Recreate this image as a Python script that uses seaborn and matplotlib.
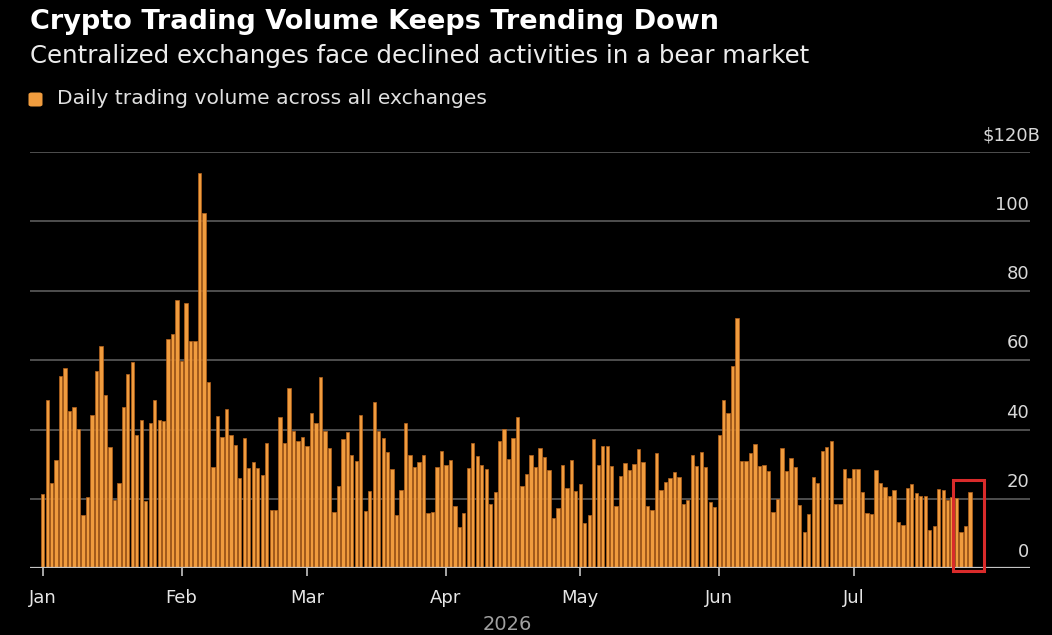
import numpy as np
import pandas as pd
import matplotlib
matplotlib.use('Agg')
import matplotlib.pyplot as plt
import matplotlib.transforms as mtransforms
from matplotlib.patches import Rectangle, FancyBboxPatch
import seaborn as sns

# daily volume, $B, Jan 1 .. Jul 27
volume = [
    21.3, 48.5, 24.7, 31.2, 55.5, 57.8, 45.4, 46.6, 40.2, 15.4,
    20.5, 44.2, 56.8, 64.2, 50.0, 35.0, 19.7, 24.7, 46.5, 56.0,
    59.6, 38.5, 42.8, 19.5, 41.9, 48.4, 42.7, 42.5, 66.1, 67.5,
    77.3, 59.7, 76.4, 65.5, 65.5, 114.0, 102.3, 53.6, 29.1, 44.0,
    37.8, 46.0, 38.3, 35.5, 26.1, 37.7, 28.8, 30.5, 29.0, 26.9,
    36.2, 16.8, 16.8, 43.7, 36.2, 52.1, 39.7, 36.8, 37.9, 35.3,
    44.9, 42.0, 55.2, 39.7, 34.6, 16.1, 23.8, 37.4, 39.3, 32.7,
    31.0, 44.2, 16.4, 22.3, 47.9, 39.7, 37.7, 33.6, 28.6, 15.4,
    22.6, 42.0, 32.7, 29.1, 30.5, 32.8, 16.0, 16.1, 29.1, 33.9,
    29.7, 31.1, 18.0, 11.8, 16.0, 28.8, 36.2, 32.4, 29.7, 28.5,
    18.5, 21.9, 36.7, 40.2, 31.6, 37.5, 43.7, 23.8, 27.2, 32.7,
    29.3, 34.8, 32.1, 28.3, 14.5, 17.4, 29.8, 23.2, 31.2, 22.4,
    24.4, 13.0, 15.4, 37.3, 29.8, 35.3, 35.3, 29.6, 18.0, 26.6,
    30.3, 28.3, 30.2, 34.5, 30.5, 18.0, 16.8, 33.3, 22.6, 25.0,
    26.1, 27.9, 26.2, 18.4, 19.7, 32.6, 29.5, 33.4, 29.3, 19.1,
    17.7, 38.4, 48.5, 44.9, 58.3, 72.2, 30.8, 30.8, 33.3, 35.7,
    29.5, 29.7, 28.1, 16.3, 19.9, 34.6, 28.0, 31.7, 29.1, 18.2,
    10.5, 15.6, 26.2, 24.7, 33.8, 34.9, 36.8, 18.6, 18.5, 28.6,
    26.1, 28.5, 28.6, 22.0, 15.9, 15.6, 28.3, 24.5, 23.3, 20.7,
    22.7, 13.4, 12.5, 23.2, 24.2, 21.8, 20.8, 20.9, 10.9, 12.2,
    22.9, 22.6, 19.7, 20.5, 20.2, 10.6, 12.3, 22.1,
]
start_date = '2026-01-01'
y_ticks = [0, 20, 40, 60, 80, 100, 120]
y_labels = ['0', '20', '40', '60', '80', '100', '$120B']
n_highlight = 4  # last days boxed in red

title = 'Crypto Trading Volume Keeps Trending Down'
subtitle = 'Centralized exchanges face declined activities in a bear market'
legend_label = 'Daily trading volume across all exchanges'

BG = '#000000'
BAR = '#f09c3e'
BAR_EDGE = '#b5621b'

dates = pd.date_range(start_date, periods=len(volume), freq='D')
df = pd.DataFrame({'pos': np.arange(len(volume)), 'volume': volume})

W, H = 1052, 635
fig = plt.figure(figsize=(W / 100, H / 100), dpi=100, facecolor=BG)
ax = fig.add_axes([30 / W, (H - 568.3) / H, 1000 / W, (568.3 - 152) / H])
ax.set_facecolor(BG)

# gridlines first so bars sit on top
for v in y_ticks[1:]:
    ax.axhline(v, color='#4f4f4f', lw=1.4, zorder=0)

sns.barplot(data=df, x='pos', y='volume', ax=ax, color=BAR, width=0.74,
            edgecolor=BAR_EDGE, linewidth=0.5, saturation=1, zorder=2,
            native_scale=True)

ax.axhline(0, color='#c4c4c4', lw=1.6, zorder=3)

step = 1000 / 4.48
x0 = -(42.7 - 30) / 4.48
ax.set_xlim(x0, x0 + step)
ax.set_ylim(0, 120)

for s in ax.spines.values():
    s.set_visible(False)
ax.set_xlabel('')
ax.set_ylabel('')
ax.set_yticks([])

month_pos = [i for i, d in enumerate(dates) if d.day == 1]
month_lab = [dates[i].strftime('%b') for i in month_pos]
ax.set_xticks(month_pos)
ax.set_xticklabels(month_lab)
ax.tick_params(axis='x', length=6, width=1.2, color='#c4c4c4', pad=9,
               labelsize=13, labelcolor='#e6e6e6', direction='out')

# y labels at right, sitting above each gridline
tr = mtransforms.blended_transform_factory(ax.transAxes, ax.transData)
for v, lab in zip(y_ticks, y_labels):
    xr = 0.999 if lab.isdigit() else 1.010
    ax.text(xr, v + 4.8, lab, transform=tr, ha='right', va='center',
            fontsize=13, color='#d8d8d8')

# red box around the last few days
last = len(volume) - 1
box = Rectangle((last - n_highlight + 0.3, -0.8), n_highlight + 2.7, 26.2,
                fill=False, edgecolor='#d92b2b', lw=2.2, zorder=4, clip_on=False)
ax.add_patch(box)

fig.text(507 / W, 1 - 625 / H, str(dates[0].year), ha='center', va='center',
         fontsize=14, color='#a0a0a0')

fig.text(30 / W, 1 - 22 / H, title, ha='left', va='center', fontsize=19.5,
         fontweight='bold', color='#ffffff')
fig.text(30 / W, 1 - 56 / H, subtitle, ha='left', va='center', fontsize=17.6,
         color='#ececec')

sq = FancyBboxPatch((28.5 / W, 1 - 106.5 / H), 14 / W, 14 / H,
                    boxstyle='round,pad=0,rounding_size=0.003',
                    transform=fig.transFigure, facecolor=BAR, edgecolor='none')
fig.patches.append(sq)
fig.text(57 / W, 1 - 98 / H, legend_label, ha='left', va='center',
         fontsize=14.6, color='#e0e0e0')

fig.savefig('out.png', dpi=100, facecolor=BG)
